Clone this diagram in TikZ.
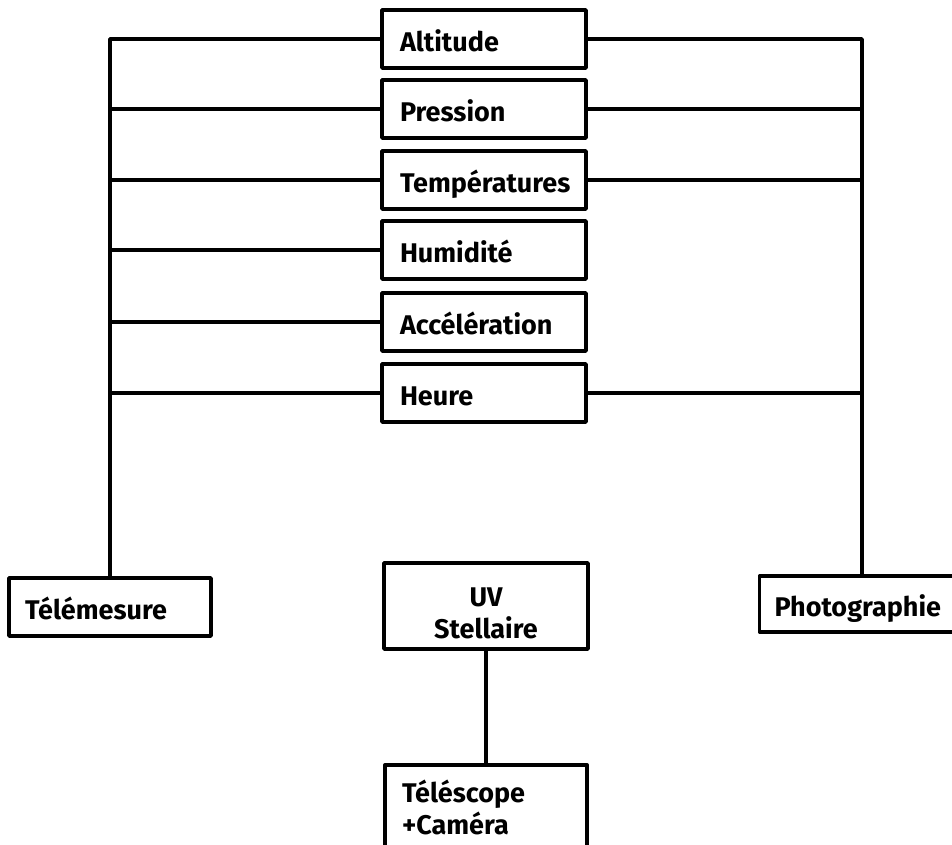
\documentclass[tikz,border=0pt]{standalone}
\usepackage{fontspec}
\setmainfont{Fira Sans}
\usetikzlibrary{positioning}

\begin{document}
\begin{tikzpicture}[x=1pt,y=-1pt,line width=3.6pt,line join=round,
  box/.style={draw, rectangle, line width=3.6pt, inner xsep=18pt, inner ysep=0pt,
    minimum height=58pt, text width=168pt, align=left,
    font=\bfseries\fontsize{27}{32}\selectfont},
  solo/.style={box, text height=27pt, text depth=2pt}]
\useasboundingbox (0,0) rectangle (952,845);
% mesures
\node[solo] (alti) at (484,39) {Altitude};
\node[solo] (pres) at (484,109) {Pression};
\node[solo] (temp) at (484,180) {Températures};
\node[solo] (humi) at (484,250) {Humidité};
\node[solo] (acce) at (484,322) {Accélération};
\node[solo] (heur) at (484,393) {Heure};
% sorties
\node[solo, inner xsep=16pt, text width=170pt] (tele) at (110,607) {Télémesure};
\node[solo, inner xsep=15pt, text width=165pt, minimum height=56pt] (phot) at (857,604) {Photographie};
\node[box, minimum height=86pt, align=center] (uvst) at (486,606) {\rule{0pt}{33pt}UV\\Stellaire};
\node[box, anchor=north, inner xsep=17pt, inner ysep=15pt, minimum height=0pt] (tesc) at (486,763) {Téléscope\\+Caméra};
% liaisons
\coordinate (lt) at (110,39);
\coordinate (rt) at (862,39);
\draw (alti.west) -- (lt) -- (tele.north);
\draw (alti.east) -- (rt) -- (rt |- phot.north);
\foreach \n in {pres,temp,humi,acce,heur}
  \draw (\n.west) -- (\n.west -| lt);
\foreach \n in {pres,temp,heur}
  \draw (\n.east) -- (\n.east -| rt);
\draw (uvst) -- (tesc);
\end{tikzpicture}
\end{document}
